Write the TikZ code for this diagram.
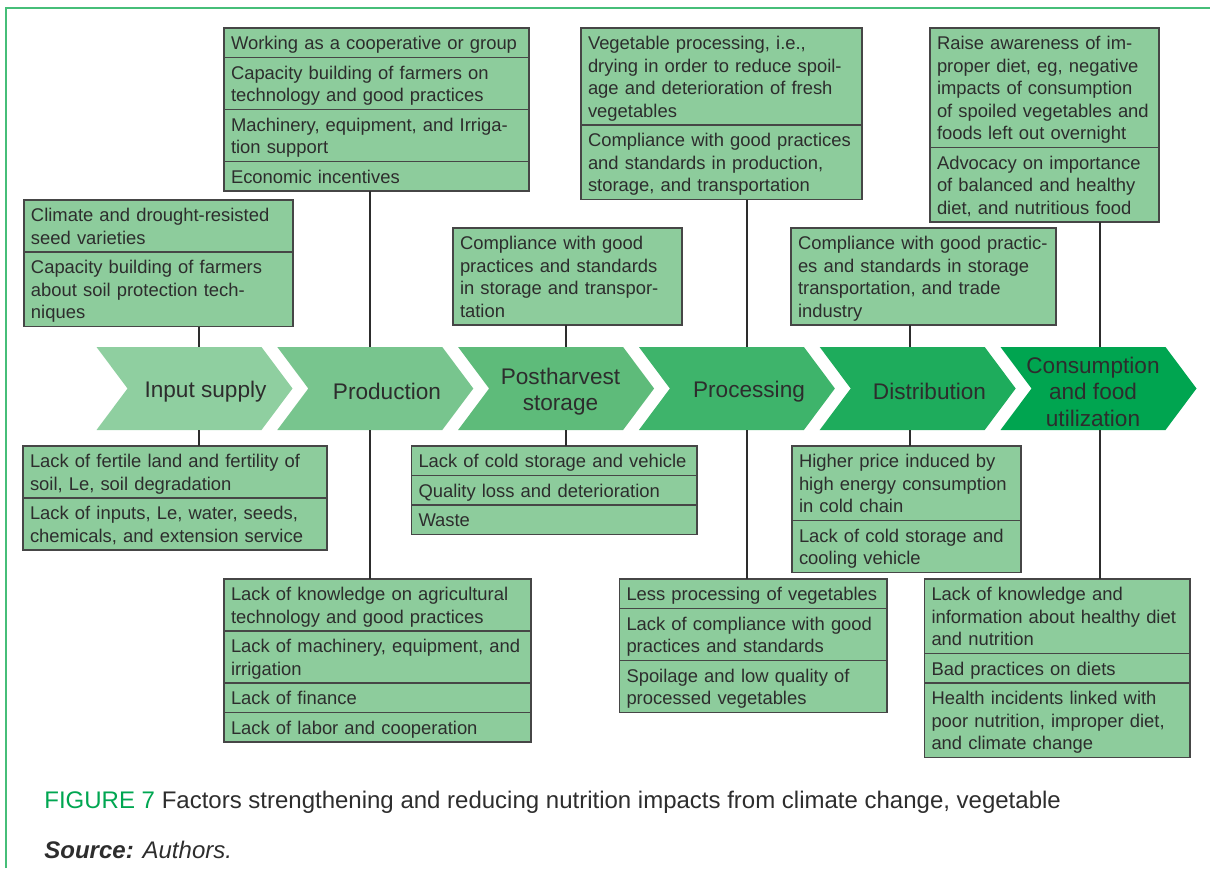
\documentclass[tikz,border=0pt]{standalone}
\usepackage{fontspec}
\setmainfont{Liberation Sans}
\usepackage{tikz}
\usetikzlibrary{positioning}

\definecolor{boxfill}{RGB}{141,204,156}
\definecolor{boxline}{RGB}{70,70,70}
\definecolor{txt}{RGB}{45,45,45}
\definecolor{framegreen}{RGB}{70,190,120}
\definecolor{figgreen}{RGB}{0,166,81}
\definecolor{chev1}{RGB}{143,207,160}
\definecolor{chev2}{RGB}{120,197,142}
\definecolor{chev3}{RGB}{94,187,122}
\definecolor{chev4}{RGB}{62,180,107}
\definecolor{chev5}{RGB}{30,172,92}
\definecolor{chev6}{RGB}{0,165,80}

\tikzset{
	cellbox/.style={draw=boxline, line width=0.6pt, fill=boxfill, anchor=north west, align=left,
		inner xsep=3.5pt, inner ysep=0pt, outer sep=0pt, text=txt,
		font=\fontsize{9.2}{11.25}\selectfont, text width=#1,
		execute at begin node=\rule{0pt}{8.75pt},
		execute at end node=\rule[-2pt]{0pt}{2pt}},
	nlines/.style={minimum height={#1*11.25pt+3.5pt}},
	stagebody/.style={inner sep=0pt, outer sep=0pt, minimum width=67pt, minimum height=41.5pt},
	stagelabel/.style={align=center, inner sep=0pt, text=txt,
		font=\fontsize{11.3}{13.25}\selectfont},
	joinline/.style={draw=txt, line width=0.6pt}
}

\begin{document}
\begin{tikzpicture}[x=0.5pt, y=-0.5pt]
			\useasboundingbox (0,0) rectangle (1210,868);
			\draw[framegreen, line width=1pt] (6,868) -- (6,8) -- (1210,8);

			\foreach \c/\x in {1/96.5, 2/277.3, 3/458.1, 4/638.9, 5/819.7, 6/1000.5}
			{
				\fill[fill=chev\c] (\x,347) -- ++(165,0) -- ++(31,41.5) -- ++(-31,41.5) -- ++(-165,0) -- ++(31,-41.5) -- cycle;
				\node[stagebody] (ch\c) at (\x+98,388.5) {};
			}
			\node[stagelabel] (lb1) at (205.5,391.5) {Input supply};
			\node[stagelabel] (lb2) at (387,391.5) {Production};
			\node[stagelabel] (lb3) at (560.5,391.5) {Postharvest\\storage};
			\node[stagelabel] (lb4) at (749,391.5) {Processing};
			\node[stagelabel] (lb5) at (929.5,391.5) {Distribution};
			\node[stagelabel] (lb6) at (1093,391.5) {Consumption\\and food\\utilization};

			\node[cellbox=127.5pt, nlines=2] (t1a) at (24,200) {Climate and drought-resisted\\seed varieties};
			\node[cellbox=127.5pt, nlines=3, below=0pt of t1a, alias=top1] (t1b) {Capacity building of farmers\\about soil protection tech-\\niques};

			\node[cellbox=145.5pt, nlines=1] (t2a) at (224,28) {Working as a cooperative or group};
			\node[cellbox=145.5pt, nlines=2, below=0pt of t2a] (t2b) {Capacity building of farmers on\\technology and good practices};
			\node[cellbox=145.5pt, nlines=2, below=0pt of t2b] (t2c) {Machinery, equipment, and Irriga-\\tion support};
			\node[cellbox=145.5pt, nlines=1, below=0pt of t2c, alias=top2] (t2d) {Economic incentives};

			\node[cellbox=107.5pt, nlines=4, alias=top3] (t3a) at (453,228) {Compliance with good\\practices and standards\\in storage and transpor-\\tation};

			\node[cellbox=133.5pt, nlines=4] (t4a) at (581,28) {Vegetable processing, i.e.,\\drying in order to reduce spoil-\\age and deterioration of fresh\\vegetables};
			\node[cellbox=133.5pt, nlines=3, below=0pt of t4a, alias=top4] (t4b) {Compliance with good practices\\and standards in production,\\storage, and transportation};

			\node[cellbox=125.5pt, nlines=4, alias=top5] (t5a) at (791,228) {Compliance with good practic-\\es and standards in storage\\transportation, and trade\\industry};

			\node[cellbox=107.5pt, nlines=5] (t6a) at (930,28) {Raise awareness of im-\\proper diet, eg, negative\\impacts of consumption\\of spoiled vegetables and\\foods left out overnight};
			\node[cellbox=107.5pt, nlines=3, below=0pt of t6a, alias=top6] (t6b) {Advocacy on importance\\of balanced and healthy\\diet, and nutritious food};

			\node[cellbox=145pt, nlines=2, alias=bot1] (b1a) at (23,446) {Lack of fertile land and fertility of\\soil, Le, soil degradation};
			\node[cellbox=145pt, nlines=2, below=0pt of b1a] (b1b) {Lack of inputs, Le, water, seeds,\\chemicals, and extension service};

			\node[cellbox=146.5pt, nlines=2, alias=bot2] (b2a) at (224,579) {Lack of knowledge on agricultural\\technology and good practices};
			\node[cellbox=146.5pt, nlines=2, below=0pt of b2a] (b2b) {Lack of machinery, equipment, and\\irrigation};
			\node[cellbox=146.5pt, nlines=1, below=0pt of b2b] (b2c) {Lack of finance};
			\node[cellbox=146.5pt, nlines=1, below=0pt of b2c] (b2d) {Lack of labor and cooperation};

			\node[cellbox=135.75pt, nlines=1, alias=bot3] (b3a) at (411.5,446) {Lack of cold storage and vehicle};
			\node[cellbox=135.75pt, nlines=1, below=0pt of b3a] (b3b) {Quality loss and deterioration};
			\node[cellbox=135.75pt, nlines=1, below=0pt of b3b] (b3c) {Waste};

			\node[cellbox=126.75pt, nlines=1, alias=bot4] (b4a) at (619.5,579) {Less processing of vegetables};
			\node[cellbox=126.75pt, nlines=2, below=0pt of b4a] (b4b) {Lack of compliance with good\\practices and standards};
			\node[cellbox=126.75pt, nlines=2, below=0pt of b4b] (b4c) {Spoilage and low quality of\\processed vegetables};

			\node[cellbox=107.5pt, nlines=3, alias=bot5] (b5a) at (792,446) {Higher price induced by\\high energy consumption\\in cold chain};
			\node[cellbox=107.5pt, nlines=2, below=0pt of b5a] (b5b) {Lack of cold storage and\\cooling vehicle};

			\node[cellbox=125.75pt, nlines=3, alias=bot6] (b6a) at (924.5,579) {Lack of knowledge and\\information about healthy diet\\and nutrition};
			\node[cellbox=125.75pt, nlines=1, below=0pt of b6a] (b6b) {Bad practices on diets};
			\node[cellbox=125.75pt, nlines=3, below=0pt of b6b] (b6c) {Health incidents linked with\\poor nutrition, improper diet,\\and climate change};

			\foreach \c/\x in {1/199, 2/370, 3/566, 4/747, 5/910, 6/1100}
			{
				\coordinate (j\c) at (\x,0);
				\draw[joinline] (top\c.south -| j\c) -- (ch\c.north -| j\c)
					(ch\c.south -| j\c) -- (bot\c.north -| j\c);
			}

			\node[anchor=base west, inner sep=0pt, text=txt, font=\fontsize{12}{14}\selectfont] (cap) at (44,808)
				{\textcolor{figgreen}{FIGURE 7} Factors strengthening and reducing nutrition impacts from climate change, vegetable};
			\node[anchor=base west, inner sep=0pt, text=txt, font=\fontsize{12}{14}\selectfont] (src) at (44,858)
				{\textbf{\textit{Source:}} \textit{Authors.}};
		\end{tikzpicture}
\end{document}
